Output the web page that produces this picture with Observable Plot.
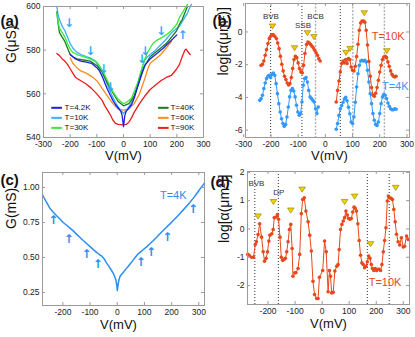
<!DOCTYPE html>
<html><head><meta charset="utf-8">
<script src="https://cdn.jsdelivr.net/npm/d3@7"></script>
<script src="https://cdn.jsdelivr.net/npm/@observablehq/plot@0.6"></script>
<style>
body{margin:0;background:#fff;}
#fig{position:relative;width:415px;height:337px;overflow:hidden;background:#fff;}
</style></head><body><div id="fig"></div>
<script>
// ---------- Panel (a): G(µS) vs V(mV) at several temperatures ----------
const a_T4_2K = [[-200,578],[-180,576],[-160,575],[-140,574.5],[-120,574],[-100,572],[-90,570.5],[-80,568],[-70,565],[-60,562],[-50,559.5],[-40,557],[-30,555],[-20,553.5],[-10,552],[-5,550],[0,545],[5,550],[10,552],[20,553.5],[30,555],[40,558],[50,562],[60,566],[70,570],[80,573],[100,576],[125,578.5],[150,581],[175,584],[200,587]];
const a_T10K = [[-250,600],[-245,596],[-240,594],[-230,591],[-220,589],[-210,586],[-200,583],[-190,581],[-175,579],[-160,578],[-150,577.5],[-140,577],[-125,576.5],[-110,575.5],[-100,574],[-90,572],[-80,570],[-70,567],[-60,564],[-50,561],[-40,558.5],[-30,556],[-20,554],[-10,552.5],[0,551],[10,552.5],[20,554],[30,556],[40,559],[50,563],[60,567.5],[70,572],[80,575.5],[90,577],[100,578],[120,580],[140,582.5],[160,585],[180,588],[200,590],[210,591],[220,593],[230,595],[240,597],[250,600],[255,601]];
const a_T30K = [[-250,597],[-245,593],[-240,590],[-230,588],[-220,586],[-210,583],[-200,580.5],[-190,579],[-175,578],[-150,577],[-125,576],[-100,574.5],[-80,571],[-60,566],[-40,561],[-20,557.5],[-10,556.5],[0,555.5],[10,556],[20,557],[30,558],[40,561],[50,564],[60,568],[70,572],[80,576],[90,579],[100,581],[110,583],[125,584.5],[140,585.5],[160,587],[180,589],[200,592],[210,595],[220,597],[230,599],[240,601]];
const a_T40K = [[-250,597.5],[-245,592],[-240,588],[-230,586],[-220,584],[-210,581],[-200,578],[-190,577],[-175,576],[-150,575.5],[-125,575],[-100,573],[-80,570],[-60,565],[-40,560.5],[-20,556.5],[0,554.5],[20,555.5],[40,559],[60,566],[80,573],[100,577],[120,579],[140,581],[160,583],[180,586],[200,589],[210,592],[220,594],[230,597],[240,600]];
const a_T60K = [[-200,576.5],[-190,574],[-175,572],[-160,570.5],[-140,569.5],[-120,568],[-100,566],[-80,562.5],[-60,559],[-40,555.5],[-20,553],[0,552.5],[20,553],[40,555.5],[60,560],[80,567],[90,571],[100,574],[120,576],[140,578],[160,581],[180,584]];
const a_T90K = [[-250,578.5],[-240,577.5],[-230,576],[-220,575],[-210,573.5],[-200,571.5],[-190,569.5],[-180,567.5],[-160,566],[-140,564.5],[-120,562.5],[-100,560],[-80,557],[-70,554.5],[-60,552.5],[-50,550.5],[-40,548],[-30,546.5],[-20,546],[0,545.8],[10,546],[20,547],[30,549],[40,551.5],[60,555.5],[80,559],[100,562],[120,564],[140,566],[160,567.5],[180,568.5],[190,570],[200,571.5],[210,573.5],[220,577],[230,580],[235,580.5],[240,579.5],[250,578]];
const a_downArrows = [[-204,592.5],[-125,579.7],[-75,571.2],[-50,563.1],[69,575.7],[81,579.7],[141,588.9]];
const a_upArrows = [[221,586.8]];
const a_seriesNames = ["T=4.2K","T=10K","T=30K","T=40K","T=60K","T=90K"];
const a_xTicks = [-300,-200,-100,0,100,200,300];
const a_yTicks = [540,560,580,600];

// ---------- Panel (b): log[α] vs V, T=10K (red) and T=4K (blue) ----------
const b_red_left_V = [-236,-231,-226,-221,-216,-211,-206,-201,-196,-191,-186,-180,-175,-170,-165,-160,-155,-150,-145,-140,-135,-130,-125,-120,-115,-110,-105,-100,-95,-90,-85,-80,-75,-69,-64,-59,-54,-49,-44,-39,-34,-29,-24,-19];
const b_red_left_L = [-2.04,-1.98,-1.77,-1.42,-1.08,-0.71,-0.40,-0.26,-0.18,-0.18,-0.26,-0.40,-0.67,-1.02,-1.49,-1.97,-2.38,-2.71,-2.91,-3.12,-3.24,-3.16,-2.79,-2.24,-1.69,-1.49,-1.57,-1.89,-2.24,-2.44,-2.50,-2.04,-1.32,-0.77,-0.61,-0.67,-0.77,-0.87,-0.98,-1.12,-1.28,-1.42,-1.63,-1.77];
const b_red_right_V = [40,45,50,55,60,65,70,75,80,85,90,95,100,105,110,115,120,125,130,135,140,145,150,155,160,165,170,175,180,185,190,195,200,205,210,215,220,225,230,235,240,245,250,255,260];
const b_red_right_L = [-4.28,-3.57,-3.0,-2.44,-1.93,-1.77,-1.9,-1.69,-1.93,-1.63,-1.69,-2.14,-2.34,-2.38,-2.1,-1.5,-0.75,0.1,0.55,0.67,0.67,0.6,0.1,-0.8,-1.8,-2.7,-3.4,-3.85,-3.93,-3.75,-3.4,-2.95,-2.45,-2.04,-1.69,-1.53,-1.49,-1.57,-1.83,-2.1,-2.38,-2.59,-2.71,-2.75,-2.71];
const b_blue_left_V = [-241,-236,-231,-226,-221,-216,-211,-206,-201,-196,-191,-186,-181,-176,-171,-166,-161,-156,-151,-146,-141,-136,-131,-126,-121,-116,-111,-106,-101,-96,-91,-86,-81,-76,-71,-66,-61,-56,-51,-46,-41,-36,-31,-26];
const b_blue_left_L = [-4.18,-4.07,-3.87,-3.46,-3.12,-2.85,-2.71,-2.65,-2.79,-2.59,-2.51,-2.65,-3.16,-3.77,-4.38,-4.89,-5.30,-5.60,-5.77,-5.65,-5.20,-4.59,-3.97,-3.57,-3.46,-3.61,-3.97,-4.48,-4.89,-5.09,-4.99,-4.28,-3.26,-2.85,-2.79,-3.06,-3.57,-3.97,-4.07,-4.18,-4.28,-4.69,-4.99,-4.59];
const b_blue_right_V = [40,45,50,55,60,65,70,75,80,85,90,95,100,105,110,115,120,125,130,135,140,145,150,155,160,165,170,175,180,185,190,195,200,205,210,215,220,225,230,235,240,245,250,255,260];
const b_blue_right_L = [-5.95,-5.6,-5.1,-4.7,-4.5,-4.3,-4.1,-4.0,-4.2,-4.6,-5.0,-5.5,-5.6,-5.2,-4.3,-3.36,-2.55,-2.04,-1.77,-1.73,-1.77,-1.73,-1.83,-2.34,-3.06,-3.77,-4.38,-4.99,-5.40,-5.65,-5.71,-5.50,-4.99,-4.38,-3.97,-3.81,-3.87,-4.07,-4.34,-4.54,-4.69,-4.75,-4.75,-4.7,-4.72];
const b_peaks = [[-194,0.35],[-113,-0.98],[-66,-0.06],[-42,-0.30],[76,-1.26],[91,-1.02],[143,1.16],[226,-1.16]];
const b_linesDark = [-201,-86,55];
const b_linesGray = [-36,101,217];
const b_bandLabels = [["BVB",-200,0.96],["SSB",-82,0.41],["BCB",-36,0.96]];
const b_xTicks = [-300,-200,-100,0,100,200,300];
const b_yTicks = [-6,-4,-2,0];

// ---------- Panel (c): G(mS) vs V at T=4K ----------
const c_line = [[-275,0.948],[-262,0.9],[-248,0.852],[-236,0.825],[-223,0.798],[-211,0.775],[-199,0.75],[-186,0.73],[-174,0.71],[-162,0.69],[-150,0.667],[-137,0.643],[-125,0.621],[-113,0.6],[-101,0.579],[-88,0.556],[-76,0.536],[-67,0.523],[-58,0.512],[-48,0.49],[-39,0.46],[-30,0.435],[-21,0.407],[-14,0.385],[-9,0.36],[-5,0.34],[-3,0.317],[-1,0.29],[0,0.264],[2,0.29],[4,0.317],[7,0.345],[10,0.364],[16,0.38],[22,0.393],[31,0.415],[40,0.436],[50,0.46],[59,0.483],[68,0.505],[77,0.526],[86,0.54],[95,0.555],[108,0.576],[120,0.598],[132,0.62],[145,0.645],[157,0.669],[169,0.693],[181,0.716],[194,0.74],[206,0.764],[218,0.788],[230,0.813],[243,0.84],[255,0.866],[267,0.893],[280,0.924],[292,0.955],[304,0.987],[316,1.019],[321,1.032]];
const c_arrows = [[-235,0.769],[-178,0.631],[-113,0.521],[-72,0.455],[87,0.469],[124,0.536],[184,0.648],[279,0.845]];
const c_xTicks = [-200,-100,0,100,200,300];
const c_yTicks = [0.25,0.5,0.75,1.0];

// ---------- Panel (d): log[α] vs V at T=10K ----------
const d_points = [[-275,-0.9],[-270,-0.93],[-261,-1.0],[-254,-1.0],[-247,-0.55],[-243,-0.45],[-237,-0.2],[-231,0.18],[-224,-0.29],[-218,-0.81],[-213,-1.14],[-207,-1.04],[-202,-0.81],[-197,-0.43],[-193,-0.22],[-186,-0.17],[-181,-0.02],[-177,0.4],[-170,0.42],[-165,0.51],[-161,0.34],[-156,-0.29],[-151,-1.0],[-146,-1.11],[-141,-1.08],[-136,-1.04],[-131,-0.81],[-126,-0.45],[-121,-0.02],[-116,0.16],[-111,-0.69],[-108,-1.67],[-101,-1.55],[-97,-1.55],[-89,-1.4],[-83,-0.9],[-77,0.54],[-72,1.04],[-66,1.1],[-60,0.63],[-52,0.25],[-46,-0.22],[-40,-0.78],[-34,-1.85],[-28,-2.32],[-20,-2.46],[-15,-2.46],[-10,-1.71],[2,-1.47],[9,-0.43],[15,-0.81],[22,-2.22],[27,-1.47],[31,-1.67],[35,-2.26],[41,-2.24],[47,-1.49],[54,-1.32],[59,-1.26],[63,-0.73],[68,-0.02],[73,0.16],[78,0.28],[83,0.4],[88,0.63],[93,0.49],[98,0.37],[103,0.34],[108,0.37],[113,0.6],[118,0.77],[122,0.73],[127,0.63],[132,0.18],[137,-0.41],[142,-0.93],[147,-1.2],[152,-1.26],[157,-1.37],[162,-1.32],[167,-1.16],[172,-0.96],[177,-1.04],[182,-1.26],[186,-1.4],[191,-1.47],[196,-1.4],[201,-1.47],[206,-1.43],[211,-1.43],[216,-1.47],[221,-1.26],[226,-0.81],[231,-0.41],[236,0.04],[241,0.99],[245,1.16],[250,1.1],[255,1.08],[260,1.04],[265,0.69],[270,0.25],[275,-0.19],[281,-0.45],[287,-0.57],[293,-0.31],[300,-0.64],[305,-0.61],[312,-0.25],[318,-0.37]];
const d_peaks = [[-237,0.45],[-180,0.96],[-116,0.66],[-74,1.40],[83,0.96],[120,1.15],[179,-0.53],[272,1.46]];
const d_lines = [-249,-162,167,248];
const d_bandLabels = [["BVB",-243,1.6],["DP",-160,1.28]];
const d_xTicks = [-200,-100,0,100,200,300];
const d_yTicks = [-2,-1,0,1,2];

// ---------- styling ----------
const FONT = "'Liberation Sans', Arial, Helvetica, sans-serif";
const RED = "#e8481c", BLUE = "#3399ff", CBLUE = "#2b8ef0";
const A_COLORS = ["#1f1fe0","#38b0ff","#3de83d","#1c7a1c","#ff8c1a","#ee1c1c"];
const FRAME = "#9a9a9a";
const fig = document.getElementById("fig");

const zip = (V, L) => V.map((v, i) => [v, L[i]]);
const triDown = {draw(ctx, size){ const r = Math.sqrt(size/Math.PI); ctx.moveTo(-r,-0.7*r); ctx.lineTo(r,-0.7*r); ctx.lineTo(0,0.85*r); ctx.closePath(); }};
const hy = d => String(d).replace("\u2212","-");

function panel(o){
  const pw = o.width - o.ml - o.mr, ph = o.height - o.mt - o.mb;
  const ty = (o.yd[1]-o.yd[0]) * 3 / ph, tx = (o.xd[1]-o.xd[0]) * 3 / pw;
  const marks = [
    ...o.marks,
    Plot.frame({stroke: FRAME}),
    Plot.ruleX(o.xt, {y1: o.yd[0], y2: o.yd[0] + ty, stroke: FRAME}),
    Plot.ruleX(o.xt, {y1: o.yd[1], y2: o.yd[1] - ty, stroke: FRAME}),
    Plot.ruleY(o.yt, {x1: o.xd[0], x2: o.xd[0] + tx, stroke: FRAME}),
    Plot.ruleY(o.yt, {x1: o.xd[1], x2: o.xd[1] - tx, stroke: FRAME}),
    Plot.text([o.tag], {frameAnchor: "top-left", dx: o.tagDx, dy: o.tagDy, text: d => d, textAnchor: "start", fontSize: 15, fontWeight: "bold", fill: "#111"}),
    Plot.text(["V(mV)"], {frameAnchor: "bottom", dx: o.xlDx, dy: o.xlDy, text: d => d, fontSize: 13, fill: "#111"}),
    Plot.text([o.ylabel], {frameAnchor: "left", dx: o.ylDx, dy: o.ylDy, rotate: -90, text: d => d, fontSize: 14, fill: "#111"})
  ];
  const svg = Plot.plot({
    width: o.width, height: o.height,
    marginTop: o.mt, marginRight: o.mr, marginBottom: o.mb, marginLeft: o.ml,
    style: {fontFamily: FONT, fontSize: "8.5px", color: "#222", background: "transparent", overflow: "visible"},
    x: {domain: o.xd, ticks: o.xt, tickSize: 0, tickPadding: 3, tickFormat: hy, label: null},
    y: {domain: o.yd, ticks: o.yt, tickSize: 0, tickPadding: 3, tickFormat: o.ytf || hy, label: null},
    marks
  });
  svg.style.position = "absolute";
  svg.style.left = o.left + "px";
  svg.style.top = o.top + "px";
  fig.appendChild(svg);
}

// ----- (a) -----
const aSeries = [a_T90K, a_T60K, a_T10K, a_T40K, a_T30K, a_T4_2K];
const aColorOf = [5,4,1,3,2,0];
const aLegend = a_seriesNames.map((n,i) => ({name: n, color: A_COLORS[i], col: i < 3 ? 0 : 1, row: i % 3}));
const legX = [[-269,-229,-221],[131,171,176]], legY = [553.6,549.0,544.4];
panel({
  left: 0, top: 0, width: 207, height: 165, mt: 6, mr: 4, mb: 28, ml: 43,
  xd: [-300,300], yd: [540,600], xt: a_xTicks, yt: a_yTicks,
  tag: "(a)", tagDx: -43, tagDy: 9, xlDx: 0, xlDy: 22, ylabel: "G(\u03bcS)", ylDx: -32, ylDy: -9,
  marks: [
    ...aSeries.map((s,k) => Plot.line(s, {x: d => d[0], y: d => d[1], stroke: A_COLORS[aColorOf[k]], strokeWidth: 1.3})),
    Plot.text(a_downArrows, {x: d => d[0], y: d => d[1], text: () => "\u2193", fill: "#33aaff", fontSize: 12, fontWeight: "bold", fontFamily: "DejaVu Sans"}),
    Plot.text(a_upArrows, {x: d => d[0], y: d => d[1], text: () => "\u2191", fill: "#33aaff", fontSize: 12, fontWeight: "bold", fontFamily: "DejaVu Sans"}),
    Plot.ruleY(aLegend, {y: d => legY[d.row], x1: d => legX[d.col][0], x2: d => legX[d.col][1], stroke: d => d.color, strokeWidth: 2}),
    Plot.text(aLegend, {y: d => legY[d.row], x: d => legX[d.col][2], text: d => d.name, textAnchor: "start", fontSize: 8, fill: "#111"})
  ]
});

// ----- (b) -----
const bDot = (data, color) => [
  Plot.line(data, {x: d => d[0], y: d => d[1], stroke: color, strokeWidth: 1}),
  Plot.dot(data, {x: d => d[0], y: d => d[1], fill: color, r: 1.8})
];
panel({
  left: 207, top: 0, width: 208, height: 165, mt: 3, mr: 6, mb: 28, ml: 38,
  xd: [-293.4,309.3], yd: [-6.45,1.74], xt: b_xTicks, yt: b_yTicks,
  tag: "(b)", tagDx: -33, tagDy: 12, xlDx: 2, xlDy: 22, ylabel: "log[\u03b1(\u03bcm\u00b2)]", ylDx: -22, ylDy: 5,
  marks: [
    Plot.ruleX(b_linesGray, {stroke: "#b0b0b0", strokeWidth: 1.4, strokeDasharray: "2,1.5"}),
    Plot.ruleX(b_linesDark, {stroke: "#333", strokeWidth: 1, strokeDasharray: "1,2"}),
    ...bDot(zip(b_blue_left_V, b_blue_left_L), BLUE), ...bDot(zip(b_blue_right_V, b_blue_right_L), BLUE),
    ...bDot(zip(b_red_left_V, b_red_left_L), RED), ...bDot(zip(b_red_right_V, b_red_right_L), RED),
    Plot.dot(b_peaks, {x: d => d[0], y: d => d[1], symbol: triDown, r: 3.3, fill: "#f2c800", stroke: "#9a7d00", strokeWidth: 0.6}),
    Plot.text(b_bandLabels, {x: d => d[1], y: d => d[2], text: d => d[0], fontSize: 8, fill: "#333"}),
    Plot.text(["T=10K"], {x: 171, y: -0.26, text: d => d, textAnchor: "start", fontSize: 11, fill: RED}),
    Plot.text(["T=4K"], {x: 208, y: -3.32, text: d => d, textAnchor: "start", fontSize: 11, fill: BLUE})
  ]
});

// ----- (c) -----
panel({
  left: 0, top: 165, width: 207, height: 172, mt: 7, mr: 3, mb: 32, ml: 42,
  xd: [-275,321], yd: [0.157,1.107], xt: c_xTicks, yt: c_yTicks, ytf: d3.format(".2f"),
  tag: "(c)", tagDx: -42, tagDy: 2, xlDx: -5, xlDy: 23, ylabel: "G(mS)", ylDx: -31, ylDy: -10,
  marks: [
    Plot.line(c_line, {x: d => d[0], y: d => d[1], stroke: CBLUE, strokeWidth: 1.5}),
    Plot.text(c_arrows, {x: d => d[0], y: d => d[1], text: () => "\u2191", fill: CBLUE, fontSize: 12, fontWeight: "bold", fontFamily: "DejaVu Sans"}),
    Plot.text(["T=4K"], {x: 157, y: 0.943, text: d => d, textAnchor: "start", fontSize: 11, fill: CBLUE})
  ]
});

// ----- (d) -----
panel({
  left: 207, top: 165, width: 208, height: 172, mt: 6, mr: 6, mb: 33, ml: 40,
  xd: [-276,323], yd: [-2.67,2.03], xt: d_xTicks, yt: d_yTicks,
  tag: "(d)", tagDx: -37, tagDy: 5, xlDx: 0, xlDy: 23, ylabel: "log[\u03b1(\u03bcm\u00b2)]", ylDx: -23, ylDy: 5,
  marks: [
    Plot.ruleX(d_lines, {stroke: "#333", strokeWidth: 1, strokeDasharray: "1,2"}),
    ...bDot(d_points, RED),
    Plot.dot(d_peaks, {x: d => d[0], y: d => d[1], symbol: triDown, r: 3.3, fill: "#f2d400", stroke: "#8a7800", strokeWidth: 0.6}),
    Plot.text(d_bandLabels, {x: d => d[1], y: d => d[2], text: d => d[0], fontSize: 8, fill: "#333"}),
    Plot.text(["T=10K"], {x: 172, y: -1.9, text: d => d, textAnchor: "start", fontSize: 11, fill: RED})
  ]
});
</script></body></html>
